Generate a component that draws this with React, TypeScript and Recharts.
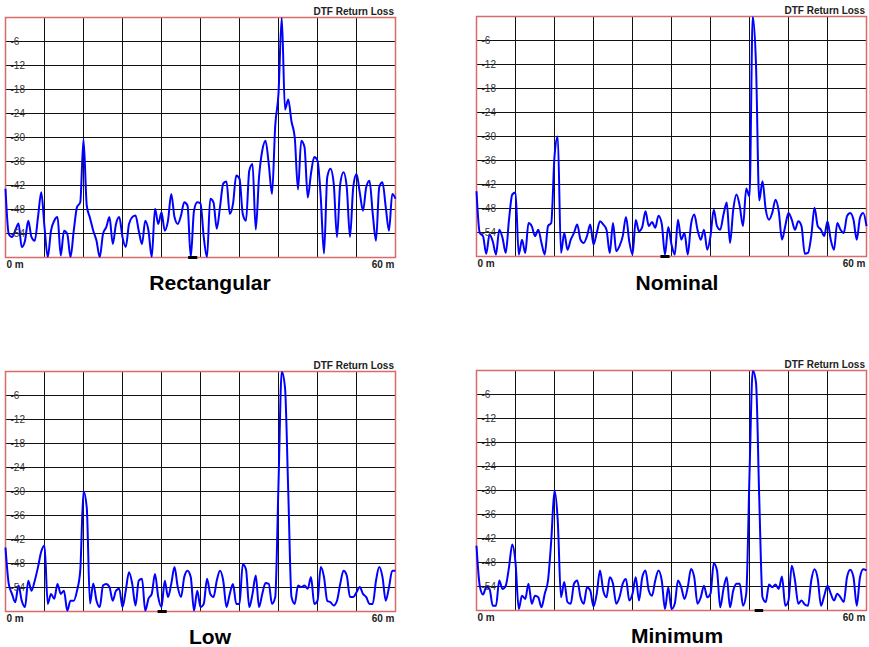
import { LineChart, Line, XAxis, YAxis, CartesianGrid, ReferenceArea, ReferenceLine } from "recharts"

// distance along the cable, metres
const distance = [
  0, 0.5, 1, 1.5, 2, 2.5, 3, 3.5, 4, 4.5, 5, 5.5, 6, 6.5, 7, 7.5, 8, 8.5, 9, 9.5,
  10, 10.5, 11, 11.5, 12, 12.5, 13, 13.5, 14, 14.5, 15, 15.5, 16, 16.5, 17, 17.5, 18, 18.5, 19, 19.5,
  20, 20.5, 21, 21.5, 22, 22.5, 23, 23.5, 24, 24.5, 25, 25.5, 26, 26.5, 27, 27.5, 28, 28.5, 29, 29.5,
  30, 30.5, 31, 31.5, 32, 32.5, 33, 33.5, 34, 34.5, 35, 35.5, 36, 36.5, 37, 37.5, 38, 38.5, 39, 39.5,
  40, 40.5, 41, 41.5, 42, 42.5, 43, 43.5, 44, 44.5, 45, 45.5, 46, 46.5, 47, 47.5, 48, 48.5, 49, 49.5,
  50, 50.5, 51, 51.5, 52, 52.5, 53, 53.5, 54, 54.5, 55, 55.5, 56, 56.5, 57, 57.5, 58, 58.5, 59, 59.5,
  60,
]

// return loss (dB) per window
const rectangular = [
  -42.8, -54.1, -54.9, -53.3, -51.5, -57.4, -55.8, -50.8, -54.9, -55.8, -49.9, -43.7, -52.4, -59.9, -53.3, -50.8, -49.9, -59.5, -53.3, -54.1,
  -59.9, -53.3, -47.4, -46.2, -30.5, -47, -50.1, -53.3, -55.8, -59.9, -54.1, -52.4, -49.9, -56.6, -51.6, -49.9, -54.9, -57.4, -51.6, -49.9,
  -49.5, -53.3, -56.6, -50.8, -53.3, -59.9, -47.8, -51.6, -48.7, -53.3, -50.8, -44.1, -49.9, -51.6, -49.5, -46.2, -47, -59.9, -48.3, -46.2,
  -46.5, -54.9, -59.9, -45.3, -46.2, -52.8, -47.4, -41.5, -41, -49.1, -46.6, -39.5, -40.3, -49.1, -50.8, -38.3, -36.6, -53, -40, -33.3,
  -30.8, -36.6, -44.1, -27, -19, 0, -23, -20.5, -26, -30, -43, -30.8, -32.4, -45, -39, -34.9, -35.8, -44.9, -59, -39.9,
  -37.8, -41.6, -54.9, -41.6, -38.7, -42.4, -54.9, -42.4, -39.1, -43.7, -48.3, -42.4, -40.8, -49.1, -55.8, -42.4, -41.2, -47.4, -53.3, -44.1,
  -45.3,
]

const nominal = [
  -43.7, -54.1, -54.9, -59.3, -54.5, -56.2, -59.5, -53.3, -55.3, -59.1, -50.8, -44.5, -44, -59.5, -55.8, -59.1, -51.6, -52.4, -54.9, -53.3,
  -56.6, -59.5, -52.4, -51.6, -35, -30, -59.1, -54.1, -58.3, -55.8, -54.1, -52, -55.8, -56.6, -54.9, -52, -57, -54.1, -51.2, -52,
  -53.3, -59.1, -51.6, -58.7, -57.4, -54.9, -50.1, -56.2, -59.5, -50.9, -53.7, -52.6, -48.7, -52.4, -51.4, -52.8, -49.8, -51.8, -59.5, -52.6,
  -57, -59.5, -50.8, -55.8, -54.1, -59.5, -52, -49.5, -53.3, -55.8, -53.3, -58.3, -54.9, -48.3, -52.4, -53.3, -49.5, -46.5, -56.6, -48.3,
  -44.5, -47.4, -52.4, -43, -45, 0, -12, -46, -41.2, -48.3, -50.8, -49.1, -45.8, -48.7, -55.8, -52.4, -49.1, -50.8, -53.3, -51.2,
  -52.4, -59.3, -59.1, -54.9, -47.8, -52.4, -53.3, -54.9, -51.2, -55.8, -58.3, -51.6, -53.3, -54.1, -49.9, -49.1, -50.8, -55.8, -50.3, -49.1,
  -52.4,
]

const low = [
  -44, -53.1, -55.6, -57.7, -53.5, -57.3, -58.9, -52.3, -54.8, -52.3, -48.9, -45, -43.5, -58.1, -55.6, -56.8, -53.1, -55.6, -54.8, -59.8,
  -57.3, -57.3, -54.8, -49.8, -30, -34, -58, -53, -57.3, -58.9, -53.5, -53.1, -53.9, -57.3, -54.8, -54.3, -58.9, -54.8, -50.2, -53.1,
  -58.5, -52.3, -51.8, -59.8, -56.8, -55.6, -50.6, -56.4, -58.9, -52.3, -56.4, -53.1, -48.9, -53.9, -56.4, -51.4, -49.8, -51.4, -59.8, -54.8,
  -58.9, -58.1, -51.8, -55.6, -56.4, -52.3, -49.8, -52.3, -58.9, -55.6, -53.1, -58.1, -58.1, -48.2, -49.5, -58.9, -55.6, -51, -58.9, -55.6,
  -52.9, -53.1, -58.1, -56.4, -28, 0, -4, -30, -56.4, -58.1, -53.5, -53.9, -53.5, -54.3, -51.4, -58.1, -57.3, -48.9, -51.4, -57.3,
  -57.7, -58.5, -57.3, -53.1, -49.8, -51, -56.4, -56.4, -55.2, -53.9, -55.6, -56.4, -58.1, -58.1, -52.3, -48.9, -51.4, -57.3, -53.9, -49.8,
  -49.8,
]

const minimum = [
  -43.8, -53.8, -56, -54.2, -54.6, -58.8, -58.8, -52.5, -54.6, -53.8, -49.2, -43.5, -48, -59.6, -56.3, -57.1, -53.3, -58.3, -56.3, -56.7,
  -59.2, -55.8, -52.5, -42.5, -30, -37.5, -56.7, -52.9, -57.9, -58.3, -53.3, -52.5, -56.7, -58.3, -54.2, -55, -59, -55.8, -50, -55,
  -56.7, -51.7, -53.3, -58.3, -56.7, -53.3, -52.1, -57.5, -55.8, -51.7, -57.5, -51.7, -50, -55, -56.3, -52.5, -50, -52.5, -59.6, -54.2,
  -59.6, -58.3, -52.5, -54.2, -57.1, -54.2, -49.6, -51.7, -58.3, -56.7, -53.8, -56.7, -55.8, -48.2, -50, -59.2, -54.6, -51.7, -59.2, -55,
  -53.3, -53.3, -58.8, -55.8, -26, 0, -3, -32, -56.7, -57.9, -53.5, -54.2, -53.5, -54.6, -51.5, -58.8, -57.5, -48.8, -52.5, -58.3,
  -57.5, -58.5, -58.8, -52.5, -49.7, -52.1, -58.8, -56.3, -53.8, -55.8, -57.5, -55.8, -56.7, -57.9, -51.7, -49.8, -51.7, -58.8, -51.7, -49.7,
  -50,
]

const xTicks = [0, 6, 12, 18, 24, 30, 36, 42, 48, 54, 60]
const yTicks = [-60, -54, -48, -42, -36, -30, -24, -18, -12, -6, 0]

// marker bar on the bottom edge of each trace (metres)
const rectMarker = [28.1, 29.5]
const nomMarker = [28.3, 29.7]
const lowMarker = [23.4, 24.8]
const minMarker = [42.8, 44.1]

const rows = distance.map((d, i) => ({
  d,
  rectangular: rectangular[i],
  nominal: nominal[i],
  low: low[i],
  minimum: minimum[i],
}))

const PW = 390
const PH = 240
const YW = 1
// half-pixel offsets keep the 1px grid lines crisp
const M = { top: 17.5, right: 4.5, bottom: 0.5, left: 4.5 }
const XH = 25
const FONT = "'Liberation Sans', Arial, sans-serif"

function YTick({ y, payload }: any) {
  if (payload.value === 0 || payload.value === -60) return <g />
  return (
    <text x={M.left + YW + 5} y={y} dy={3.5} fontSize={10} fill="#333" fontFamily={FONT}>
      {payload.value}
    </text>
  )
}

function XTick({ x, payload }: any) {
  const y = M.top + PH + 10.5
  if (payload.value === 0)
    return <text x={x + 1} y={y} textAnchor="start" fontSize={10} fontWeight="bold" fill="#222" fontFamily={FONT}>0 m</text>
  if (payload.value === 60)
    return <text x={x - 1} y={y} textAnchor="end" fontSize={10} fontWeight="bold" fill="#222" fontFamily={FONT}>60 m</text>
  return <g />
}

function Panel({ left, top, dataKey, marker, name, nameTop, nameX }: any) {
  return (
    <>
      <div style={{ position: "absolute", left: left - 5, top: top - 17 }}>
        <LineChart width={PW + 10} height={PH + 18 + XH} data={rows} margin={M}>
          <CartesianGrid stroke="#111" strokeWidth={1} />
          <XAxis dataKey="d" type="number" domain={[0, 60]} ticks={xTicks} interval={0}
            height={XH} axisLine={false} tickLine={false} tick={<XTick />} />
          <YAxis type="number" domain={[-60, 0]} ticks={yTicks} interval={0} width={YW}
            axisLine={false} tickLine={false} tick={<YTick />} allowDataOverflow />
          <ReferenceArea x1={0} x2={60} y1={-60} y2={0} fill="none" fillOpacity={0}
            stroke="#d96b6b" strokeWidth={1.5} />
          <Line type="monotone" dataKey={dataKey} stroke="#0000ff" strokeWidth={2} dot={false}
            isAnimationActive={false} />
          <ReferenceLine segment={[{ x: marker[0], y: -60 }, { x: marker[1], y: -60 }]}
            stroke="#000" strokeWidth={3} />
        </LineChart>
      </div>
      <div style={{ position: "absolute", left: left + PW - 200, top: top - 10, width: 199,
        textAlign: "right", fontSize: 10, lineHeight: "10px", fontWeight: "bold", color: "#222" }}>
        DTF Return Loss
      </div>
      <div style={{ position: "absolute", left: nameX - 100, top: nameTop, width: 200,
        textAlign: "center", fontSize: 21, lineHeight: "16px", fontWeight: "bold", color: "#000" }}>
        {name}
      </div>
    </>
  )
}

export default function App() {
  return (
    <div style={{ position: "absolute", left: 0, top: 0, width: 869, height: 647, background: "#fff",
      fontFamily: FONT }}>
      <Panel left={5} top={17} dataKey="rectangular" marker={rectMarker} name="Rectangular" nameTop={275} nameX={210} />
      <Panel left={476} top={16} dataKey="nominal" marker={nomMarker} name="Nominal" nameTop={275} nameX={677} />
      <Panel left={5} top={371} dataKey="low" marker={lowMarker} name="Low" nameTop={629} nameX={210} />
      <Panel left={476} top={370} dataKey="minimum" marker={minMarker} name="Minimum" nameTop={628} nameX={677} />
    </div>
  )
}
